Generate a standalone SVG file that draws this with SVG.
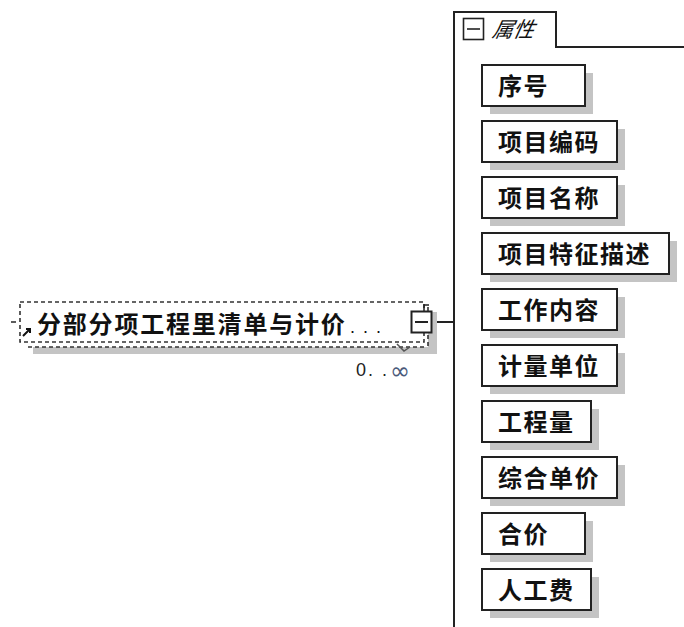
<svg xmlns="http://www.w3.org/2000/svg" width="684" height="627" viewBox="0 0 684 627">
<style>
.box{fill:#fff;stroke:#222;stroke-width:2}
.sh{fill:#c4c4c4}
.lbl{font-family:"Noto Sans CJK SC","Liberation Sans",sans-serif;font-weight:bold;font-size:24px;letter-spacing:1.5px;fill:#111}
.dash{fill:none;stroke:#333;stroke-width:1.6;stroke-dasharray:4,3}
.ln{fill:none;stroke:#222;stroke-width:2}
</style>
<rect width="684" height="627" fill="#fff"/>
<g id="connectors">
<line class="ln" x1="432" y1="322" x2="454" y2="322"/>
<path class="ln" d="M454,627 V12 H556 V47 H684"/>
</g>
<g id="attr-tab">
<rect x="463.5" y="18.5" width="20" height="21" fill="#fff" stroke="#222" stroke-width="1.6"/>
<line x1="467" y1="29" x2="480" y2="29" stroke="#222" stroke-width="1.6"/>
<text x="492" y="37" font-family="Noto Sans CJK SC,Liberation Sans,sans-serif" font-size="21" font-style="italic" fill="#111" transform="skewX(-12) translate(7,0)">属性</text>
</g>
<g id="main-element">
<rect class="sh" x="33" y="312" width="404" height="42"/>
<rect x="24" y="307" width="404" height="40" fill="#fff"/>
<rect x="20" y="302" width="404" height="40" fill="#fff"/>
<path class="dash" d="M424,347 H26 M428,307 V347"/>
<rect class="dash" x="20" y="302" width="404" height="40"/>
<line x1="11" y1="322" x2="16" y2="322" stroke="#333" stroke-width="1.6"/>
<path d="M23,336 L30,329 M26,329 H30 V333" fill="none" stroke="#111" stroke-width="2"/>
<text class="lbl" x="37" y="333" style="letter-spacing:1.8px">分部分项工程里清单与计价</text>
<text x="350" y="333" font-family="Liberation Sans,sans-serif" font-size="18" fill="#111" letter-spacing="8">...</text>
<rect x="411.5" y="311.5" width="20" height="21" fill="#fff" stroke="#222" stroke-width="2"/>
<line x1="415" y1="322" x2="428" y2="322" stroke="#222" stroke-width="2"/>
<path d="M424,311 V305 H429" fill="none" stroke="#222" stroke-width="1.5"/>
<path d="M397,344 L404,351 L410,347" fill="none" stroke="#555" stroke-width="1.5"/>
<text x="356" y="376" font-family="Liberation Sans,sans-serif" font-size="18" fill="#222" letter-spacing="2">0. .</text>
<text x="390" y="379" font-family="DejaVu Sans,sans-serif" font-size="24" fill="#4a5a7a">∞</text>
</g>
<g id="n1"><rect class="sh" x="490" y="73" width="103" height="41"/><rect class="box" x="482" y="65" width="103" height="41"/><text class="lbl" x="498" y="95">序号</text></g>
<g id="n2"><rect class="sh" x="490" y="129" width="135" height="41"/><rect class="box" x="482" y="121" width="135" height="41"/><text class="lbl" x="498" y="151">项目编码</text></g>
<g id="n3"><rect class="sh" x="490" y="185" width="135" height="41"/><rect class="box" x="482" y="177" width="135" height="41"/><text class="lbl" x="498" y="207">项目名称</text></g>
<g id="n4"><rect class="sh" x="490" y="241" width="187" height="41"/><rect class="box" x="482" y="233" width="187" height="41"/><text class="lbl" x="498" y="263">项目特征描述</text></g>
<g id="n5"><rect class="sh" x="490" y="297" width="135" height="41"/><rect class="box" x="482" y="289" width="135" height="41"/><text class="lbl" x="498" y="319">工作内容</text></g>
<g id="n6"><rect class="sh" x="490" y="353" width="135" height="41"/><rect class="box" x="482" y="345" width="135" height="41"/><text class="lbl" x="498" y="375">计量单位</text></g>
<g id="n7"><rect class="sh" x="490" y="409" width="109" height="41"/><rect class="box" x="482" y="401" width="109" height="41"/><text class="lbl" x="498" y="431">工程量</text></g>
<g id="n8"><rect class="sh" x="490" y="465" width="135" height="41"/><rect class="box" x="482" y="457" width="135" height="41"/><text class="lbl" x="498" y="487">综合单价</text></g>
<g id="n9"><rect class="sh" x="490" y="521" width="103" height="41"/><rect class="box" x="482" y="513" width="103" height="41"/><text class="lbl" x="498" y="543">合价</text></g>
<g id="n10"><rect class="sh" x="490" y="577" width="109" height="41"/><rect class="box" x="482" y="569" width="109" height="41"/><text class="lbl" x="498" y="599">人工费</text></g>
</svg>
